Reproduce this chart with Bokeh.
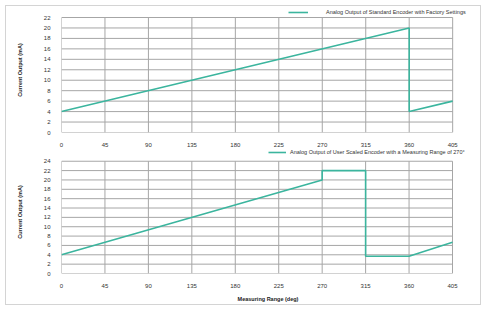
from bokeh.plotting import figure
from bokeh.models import FixedTicker, Range1d, Legend, LegendItem, Column
from bokeh.embed import file_html
from bokeh.resources import INLINE

# ---- data ----
x_ticks = [0, 45, 90, 135, 180, 225, 270, 315, 360, 405]
top_y_ticks = [0, 2, 4, 6, 8, 10, 12, 14, 16, 18, 20, 22]
bot_y_ticks = [0, 2, 4, 6, 8, 10, 12, 14, 16, 18, 20, 22, 24]

top_x = [0, 360, 360, 405]
top_y = [4, 20, 4, 6]
top_label = "Analog Output of Standard Encoder with Factory Settings"

bot_x = [0, 270, 270, 315, 315, 360, 405]
bot_y = [4, 20, 22, 22, 3.7, 3.7, 6.67]
bot_label = "Analog Output of User Scaled Encoder with a Measuring Range of 270°"

y_title = "Current Output (mA)"
x_title = "Measuring Range (deg)"

LINE = "#3bb59e"
GRID = "#a6a6a6"
FONT = "'Liberation Sans', Arial, sans-serif"
W = 474


def make(xs, ys, yticks, label, h, left, top, bottom,
         plot_w_px, extra_top_px, extra_right_px, leg_loc, glyph_w, standoff,
         xtitle=None):
    xmin, xmax = x_ticks[0], x_ticks[-1]
    ymin, ymax = yticks[0], yticks[-1]
    plot_h_px = h - top - bottom - extra_top_px
    x_end = xmax + extra_right_px * (xmax - xmin) / plot_w_px
    y_end = ymax + extra_top_px * (ymax - ymin) / plot_h_px
    right = W - left - plot_w_px - extra_right_px
    p = figure(width=W, height=h, output_backend="svg", toolbar_location=None,
               x_range=Range1d(xmin, x_end), y_range=Range1d(ymin, y_end),
               min_border_left=left, min_border_right=right,
               min_border_top=top, min_border_bottom=bottom)
    p.outline_line_color = None
    p.background_fill_color = "white"
    p.border_fill_color = "white"
    p.grid.grid_line_color = None
    for ax in (p.xaxis[0], p.yaxis[0]):
        ax.axis_line_color = None
        ax.major_tick_line_color = None
        ax.minor_tick_line_color = None
        ax.major_label_text_font = FONT
        ax.major_label_text_font_size = "6px"
        ax.major_label_text_color = "#333333"
        ax.axis_label_text_font = FONT
        ax.axis_label_text_font_size = "5.5px"
        ax.axis_label_text_font_style = "bold"
        ax.axis_label_text_color = "#222222"
    p.xaxis.ticker = FixedTicker(ticks=x_ticks)
    p.yaxis.ticker = FixedTicker(ticks=yticks)
    p.xaxis.bounds = (xmin, xmax)
    p.yaxis.bounds = (ymin, ymax)
    p.xaxis.major_label_standoff = 4
    p.yaxis.major_label_standoff = 5
    p.yaxis.axis_label = y_title
    p.yaxis.axis_label_standoff = 18
    if xtitle:
        p.xaxis.axis_label = xtitle
        p.xaxis.axis_label_standoff = 5
    # grid lines (also forming the plot-area box), taken from the tick lists
    p.segment(x0=x_ticks, x1=x_ticks, y0=[ymin] * len(x_ticks),
              y1=[ymax] * len(x_ticks), line_color=GRID, line_width=1)
    p.segment(x0=[xmin] * len(yticks), x1=[xmax] * len(yticks),
              y0=yticks, y1=yticks, line_color=GRID, line_width=1)
    r = p.line(xs, ys, line_color=LINE, line_width=1.6)
    leg = Legend(items=[LegendItem(label=label, renderers=[r])],
                 location=leg_loc, padding=0, margin=0, spacing=0,
                 border_line_color=None, background_fill_alpha=0,
                 glyph_width=glyph_w, glyph_height=10, label_height=10,
                 label_standoff=standoff,
                 label_text_font=FONT, label_text_font_size="5.5px",
                 label_text_color="#333333")
    p.add_layout(leg, "center")
    return p


top = make(top_x, top_y, top_y_ticks, top_label, 144, 52, 1, 18,
           394, 10, 22, (227, 115), 20, 18)
bot = make(bot_x, bot_y, bot_y_ticks, bot_label, 154, 55, 0, 28,
           391, 11, 22, (207, 116), 18, 4, xtitle=x_title)

layout = Column(children=[top, bot], spacing=0,
                styles={"margin-left": "5px", "margin-top": "5px",
                        "border": "1px solid #d4d4d4",
                        "background-color": "white"})

open("out.html", "w").write(file_html(layout, INLINE))
